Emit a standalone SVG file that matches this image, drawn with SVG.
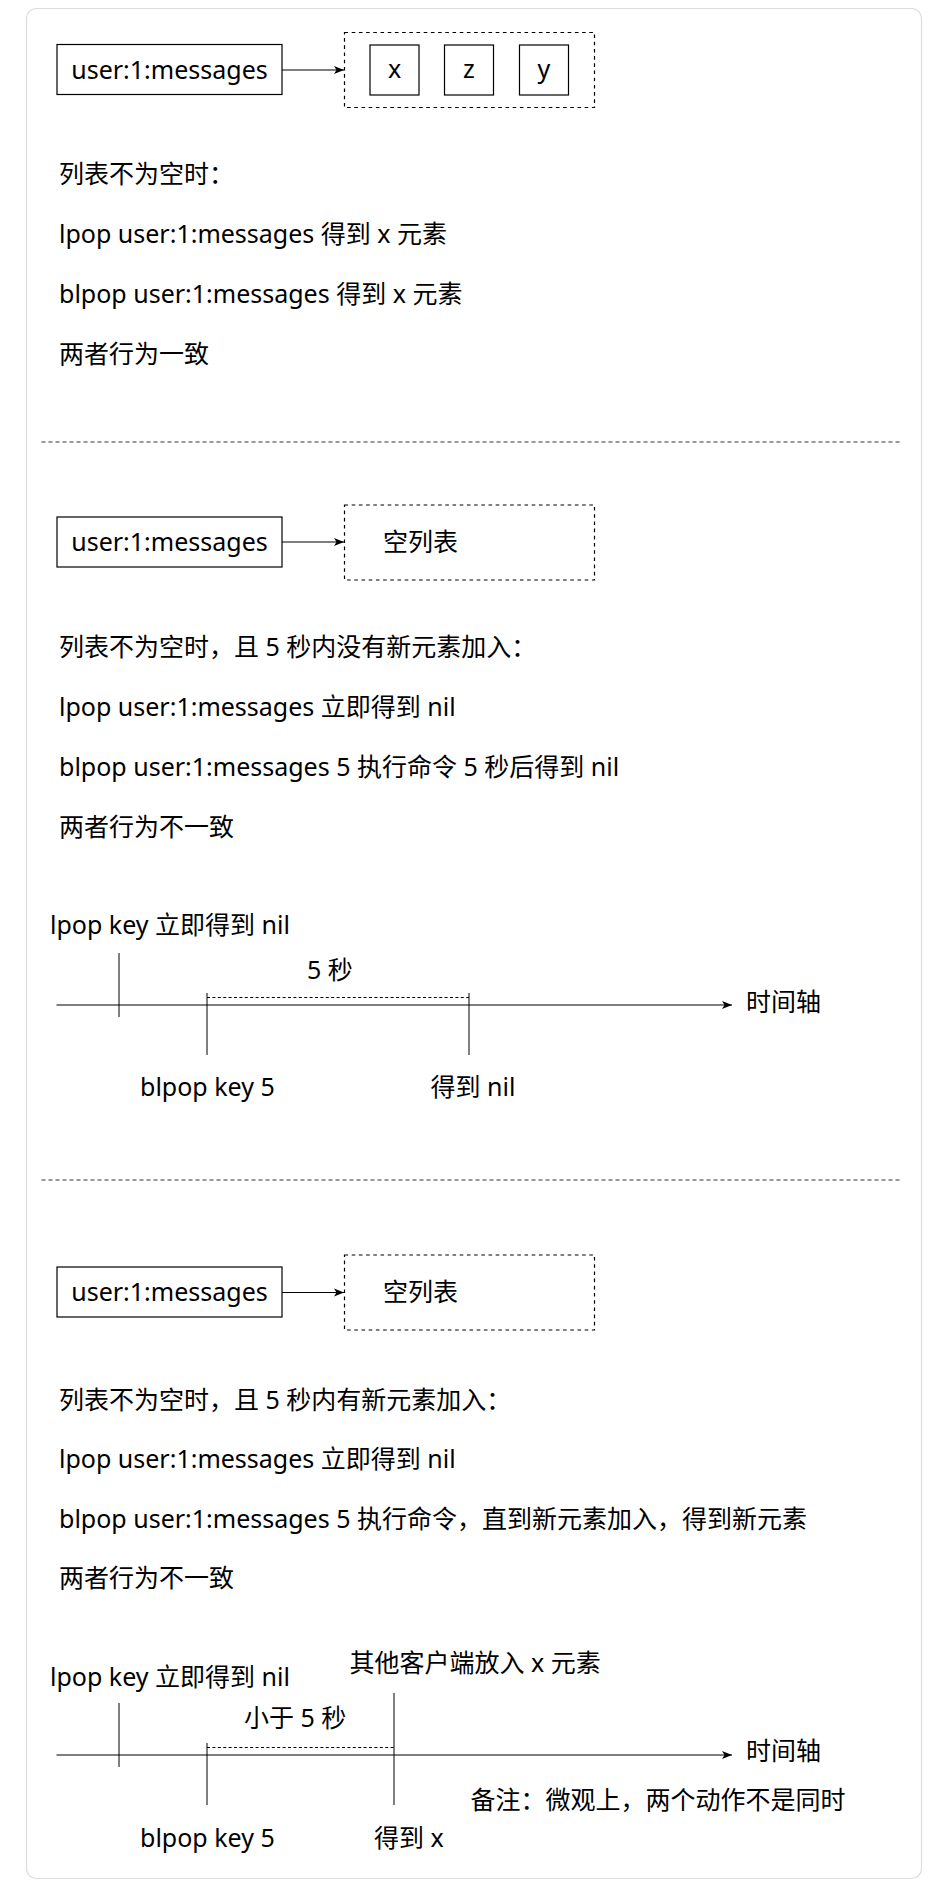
<svg xmlns="http://www.w3.org/2000/svg" width="941" height="1895" viewBox="0 0 941 1895">
<defs>
<style>
text{font-family:"Noto Sans","Noto Sans CJK SC",sans-serif;font-size:25px;fill:#000}
.box{fill:#fff;stroke:#000;stroke-width:1.2}
.dbox{fill:none;stroke:#000;stroke-width:1.2;stroke-dasharray:3.6 3.6}
.sep{stroke:#333;stroke-width:1.2;stroke-dasharray:4 3}
.ln{stroke:#000;stroke-width:1.2;fill:none}
.tick{stroke:#000;stroke-width:1;fill:none}
.dot{stroke:#000;stroke-width:1.2;stroke-dasharray:3 2.4;fill:none}
.c{text-anchor:middle}
</style>
<marker id="arr" viewBox="0 0 10 10" refX="10" refY="5" markerWidth="10" markerHeight="10" orient="auto" markerUnits="userSpaceOnUse">
<path d="M0,1 L10,5 L0,9 L2.5,5 Z" fill="#000"/>
</marker>
</defs>
<rect width="941" height="1895" fill="#fff"/>
<rect id="card" x="26.5" y="8.5" width="895" height="1870" rx="10" fill="#fff" stroke="#dcdcdc" stroke-width="1.2"/>

<!-- Section 1 -->
<g id="s1-key"><rect class="box" x="57" y="44.5" width="225" height="50"/><text class="c" x="169.5" y="78.5">user:1:messages</text></g>
<g id="s1-list"><rect class="dbox" x="344.5" y="32.5" width="250" height="75"/></g>
<g id="s1-x"><rect class="box" x="370" y="45" width="49" height="50"/><text class="c" x="394.5" y="78">x</text></g>
<g id="s1-z"><rect class="box" x="444.5" y="45" width="49" height="50"/><text class="c" x="469" y="78">z</text></g>
<g id="s1-y"><rect class="box" x="519.5" y="45" width="49" height="50"/><text class="c" x="544" y="78">y</text></g>
<g id="s1-text">
<text x="59" y="183">列表不为空时：</text>
<text x="59" y="243">lpop user:1:messages 得到 x 元素</text>
<text x="59" y="303">blpop user:1:messages 得到 x 元素</text>
<text x="59" y="363">两者行为一致</text>
</g>

<!-- Section 2 -->
<g id="s2-key"><rect class="box" x="57" y="517" width="225" height="50"/><text class="c" x="169.5" y="551">user:1:messages</text></g>
<g id="s2-list"><rect class="dbox" x="344.5" y="505" width="250" height="75"/><text x="383" y="551">空列表</text></g>
<g id="s2-text">
<text x="59" y="656">列表不为空时，且 5 秒内没有新元素加入：</text>
<text x="59" y="716">lpop user:1:messages 立即得到 nil</text>
<text x="59" y="776">blpop user:1:messages 5 执行命令 5 秒后得到 nil</text>
<text x="59" y="836">两者行为不一致</text>
</g>
<g id="s2-timeline-labels">
<text x="50" y="934">lpop key 立即得到 nil</text>
<text x="307" y="979">5 秒</text>
<text x="746" y="1011">时间轴</text>
<text x="140" y="1096">blpop key 5</text>
<text x="430.5" y="1096">得到 nil</text>
</g>

<!-- Section 3 -->
<g id="s3-key"><rect class="box" x="57" y="1267" width="225" height="50"/><text class="c" x="169.5" y="1301">user:1:messages</text></g>
<g id="s3-list"><rect class="dbox" x="344.5" y="1255" width="250" height="75"/><text x="383" y="1301">空列表</text></g>
<g id="s3-text">
<text x="59" y="1409">列表不为空时，且 5 秒内有新元素加入：</text>
<text x="59" y="1468">lpop user:1:messages 立即得到 nil</text>
<text x="59" y="1528">blpop user:1:messages 5 执行命令，直到新元素加入，得到新元素</text>
<text x="59" y="1587">两者行为不一致</text>
</g>
<g id="s3-timeline-labels">
<text x="349.5" y="1672">其他客户端放入 x 元素</text>
<text x="50" y="1686">lpop key 立即得到 nil</text>
<text x="244" y="1727">小于 5 秒</text>
<text x="746" y="1760">时间轴</text>
<text x="470.5" y="1809">备注：微观上，两个动作不是同时</text>
<text x="140" y="1847">blpop key 5</text>
<text x="374" y="1847">得到 x</text>
</g>

<g id="connectors">
<line class="sep" x1="41.5" y1="442" x2="901" y2="442"/>
<line class="sep" x1="41.5" y1="1180" x2="901" y2="1180"/>
<line class="ln" x1="282" y1="70" x2="344" y2="70" marker-end="url(#arr)"/>
<line class="ln" x1="282" y1="542" x2="344" y2="542" marker-end="url(#arr)"/>
<line class="ln" x1="282" y1="1292.5" x2="344" y2="1292.5" marker-end="url(#arr)"/>
<!-- timeline 2 -->
<line class="ln" x1="56.5" y1="1005" x2="732" y2="1005" marker-end="url(#arr)"/>
<line class="tick" x1="119" y1="953" x2="119" y2="1017"/>
<line class="tick" x1="207" y1="993" x2="207" y2="1055"/>
<line class="tick" x1="469" y1="993" x2="469" y2="1055"/>
<line class="dot" x1="207" y1="997.5" x2="469" y2="997.5"/>
<!-- timeline 3 -->
<line class="ln" x1="56.5" y1="1755" x2="732" y2="1755" marker-end="url(#arr)"/>
<line class="tick" x1="119" y1="1703" x2="119" y2="1767"/>
<line class="tick" x1="207" y1="1743" x2="207" y2="1805"/>
<line class="tick" x1="394" y1="1693" x2="394" y2="1805"/>
<line class="dot" x1="207" y1="1747.5" x2="394" y2="1747.5"/>
</g>
</svg>
